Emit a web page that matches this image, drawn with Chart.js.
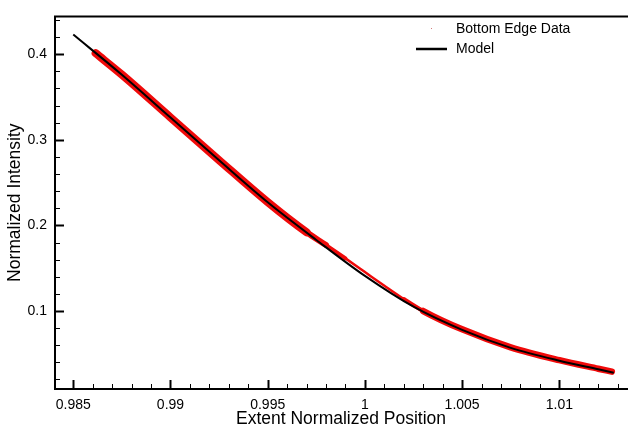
<!DOCTYPE html>
<html>
<head>
<meta charset="utf-8">
<script src="https://cdn.jsdelivr.net/npm/chart.js@4/dist/chart.umd.min.js"></script>
<style>
  html, body { margin: 0; padding: 0; background: #fff; }
  canvas { display: block; }
</style>
</head>
<body>
<canvas id="c" width="628" height="432"></canvas>
<script>
// ---- data ----
const dataLabel = "Bottom Edge Data";
const modelLabel = "Model";

const dataX = [0.98615, 0.9875, 0.99, 0.9925, 0.995, 0.997, 0.998, 0.999, 1.0, 1.001, 1.002, 1.003, 1.005, 1.0075, 1.01, 1.012, 1.0127];
const dataY = [0.4012, 0.3762, 0.3262, 0.2762, 0.2272, 0.1920, 0.1770, 0.1615, 0.1455, 0.1295, 0.1140, 0.1000, 0.0786, 0.0576, 0.0426, 0.0326, 0.0292];

const modelX = [0.985, 0.9875, 0.99, 0.9925, 0.995, 0.9975, 1.0, 1.0025, 1.005, 1.0075, 1.01, 1.012, 1.0128];
const modelY = [0.423, 0.376, 0.326, 0.276, 0.227, 0.183, 0.141, 0.105, 0.078, 0.057, 0.042, 0.032, 0.028];

const xTickValues = [0.985, 0.986, 0.987, 0.988, 0.989, 0.99, 0.991, 0.992, 0.993, 0.994, 0.995, 0.996, 0.997, 0.998, 0.999, 1.0, 1.001, 1.002, 1.003, 1.004, 1.005, 1.006, 1.007, 1.008, 1.009, 1.01, 1.011, 1.012, 1.013];
const xMajorValues = [0.985, 0.99, 0.995, 1.0, 1.005, 1.01];
const xMajorLabels = ["0.985", "0.99", "0.995", "1", "1.005", "1.01"];

const yTickValues = [0.02, 0.04, 0.06, 0.08, 0.1, 0.12, 0.14, 0.16, 0.18, 0.2, 0.22, 0.24, 0.26, 0.28, 0.3, 0.32, 0.34, 0.36, 0.38, 0.4, 0.42, 0.44];
const yMajorValues = [0.1, 0.2, 0.3, 0.4];
const yMajorLabels = ["0.1", "0.2", "0.3", "0.4"];

const xTitle = "Extent Normalized Position";
const yTitle = "Normalized Intensity";

// ---- build ----
const FONT = '"Liberation Sans", Arial, Helvetica, sans-serif';
const near = (a, b) => Math.abs(a - b) < 1e-9;
const majorIndex = (vals, v) => vals.findIndex(m => near(m, v));

const redPts = dataX.map((x, i) => ({ x, y: dataY[i] }));
const modelPts = modelX.map((x, i) => ({ x, y: modelY[i] }));

// band thickness of the red data cloud along x
const bandWidth = x0 => {
  if (x0 < 0.9965) return 8;
  if (x0 < 0.9975) return 6;
  if (x0 < 0.9985) return 4;
  if (x0 < 1.0015) return 2.5;
  if (x0 < 1.0025) return 4;
  return 6.5;
};

const axesPlugin = {
  id: 'axesPlugin',
  afterDraw(chart) {
    const { ctx, chartArea: a, scales: { x, y } } = chart;
    ctx.save();
    ctx.strokeStyle = '#000';
    ctx.lineCap = 'butt';
    ctx.lineWidth = 2;
    ctx.beginPath();
    ctx.moveTo(a.left, a.top); ctx.lineTo(a.left, a.bottom + 1);
    ctx.moveTo(a.left - 1, a.bottom); ctx.lineTo(a.right + 1, a.bottom);
    ctx.moveTo(a.left - 1, a.top); ctx.lineTo(a.right + 1, a.top);
    ctx.stroke();
    xTickValues.forEach(v => {
      const px = Math.round(x.getPixelForValue(v)) + 0.5;
      const major = majorIndex(xMajorValues, v) >= 0;
      ctx.lineWidth = major ? 2 : 1;
      ctx.beginPath();
      ctx.moveTo(px, a.bottom);
      ctx.lineTo(px, a.bottom - (major ? 9 : 5));
      ctx.stroke();
    });
    yTickValues.forEach(v => {
      const py = Math.round(y.getPixelForValue(v)) + 0.5;
      const major = majorIndex(yMajorValues, v) >= 0;
      ctx.lineWidth = major ? 2 : 1;
      ctx.beginPath();
      ctx.moveTo(a.left, py);
      ctx.lineTo(a.left + (major ? 9 : 5), py);
      ctx.stroke();
    });
    // legend
    const ds = chart.data.datasets;
    ctx.font = '14px ' + FONT;
    ctx.textBaseline = 'middle';
    ctx.textAlign = 'left';
    ctx.fillStyle = 'rgba(200,90,90,0.8)';
    ctx.fillRect(431, 28, 1, 1);
    ctx.fillStyle = '#000';
    ctx.fillText(ds[0].label, 456, 29);
    ctx.lineWidth = 2.5;
    ctx.beginPath();
    ctx.moveTo(416, 49); ctx.lineTo(447, 49);
    ctx.stroke();
    ctx.fillText(ds[1].label, 456, 49);
    ctx.restore();
  }
};

new Chart(document.getElementById('c'), {
  type: 'scatter',
  data: {
    datasets: [
      {
        label: dataLabel,
        data: redPts,
        showLine: true,
        borderColor: 'rgb(240,10,10)',
        backgroundColor: 'rgb(240,10,10)',
        borderWidth: 8,
        borderCapStyle: 'round',
        borderJoinStyle: 'round',
        pointRadius: 0,
        cubicInterpolationMode: 'monotone',
        order: 2,
        segment: { borderWidth: c => bandWidth(c.p0.parsed.x) }
      },
      {
        label: modelLabel,
        data: modelPts,
        showLine: true,
        borderColor: '#000',
        backgroundColor: '#000',
        borderWidth: 2,
        pointRadius: 0,
        cubicInterpolationMode: 'monotone',
        order: 1
      }
    ]
  },
  options: {
    responsive: false,
    devicePixelRatio: 1,
    animation: false,
    layout: { padding: { top: 8, right: 1, left: 0, bottom: 0 } },
    plugins: { legend: { display: false }, tooltip: { enabled: false } },
    scales: {
      x: {
        type: 'linear',
        min: 0.98406,
        max: 1.01348,
        grid: { display: false, drawTicks: false },
        border: { display: false },
        afterBuildTicks: s => { s.ticks = xTickValues.map(v => ({ value: v })); },
        afterFit: s => { s.height = 43; },
        ticks: {
          autoSkip: false,
          maxRotation: 0,
          padding: 8,
          color: '#000',
          font: { family: FONT, size: 14 },
          callback: v => { const i = majorIndex(xMajorValues, v); return i >= 0 ? xMajorLabels[i] : ''; }
        },
        title: { display: true, text: xTitle, color: '#000', font: { family: FONT, size: 17.5 }, padding: { top: 0, bottom: 2 } }
      },
      y: {
        type: 'linear',
        min: 0.0089,
        max: 0.4442,
        grid: { display: false, drawTicks: false },
        border: { display: false },
        afterBuildTicks: s => { s.ticks = yTickValues.map(v => ({ value: v })); },
        afterFit: s => { s.width = 55; },
        ticks: {
          autoSkip: false,
          padding: 8,
          color: '#000',
          font: { family: FONT, size: 14 },
          callback: v => { const i = majorIndex(yMajorValues, v); return i >= 0 ? yMajorLabels[i] : ''; }
        },
        title: { display: true, text: yTitle, color: '#000', font: { family: FONT, size: 17.5 }, padding: { top: 5, bottom: 0 } }
      }
    }
  },
  plugins: [axesPlugin]
});
</script>
</body>
</html>
